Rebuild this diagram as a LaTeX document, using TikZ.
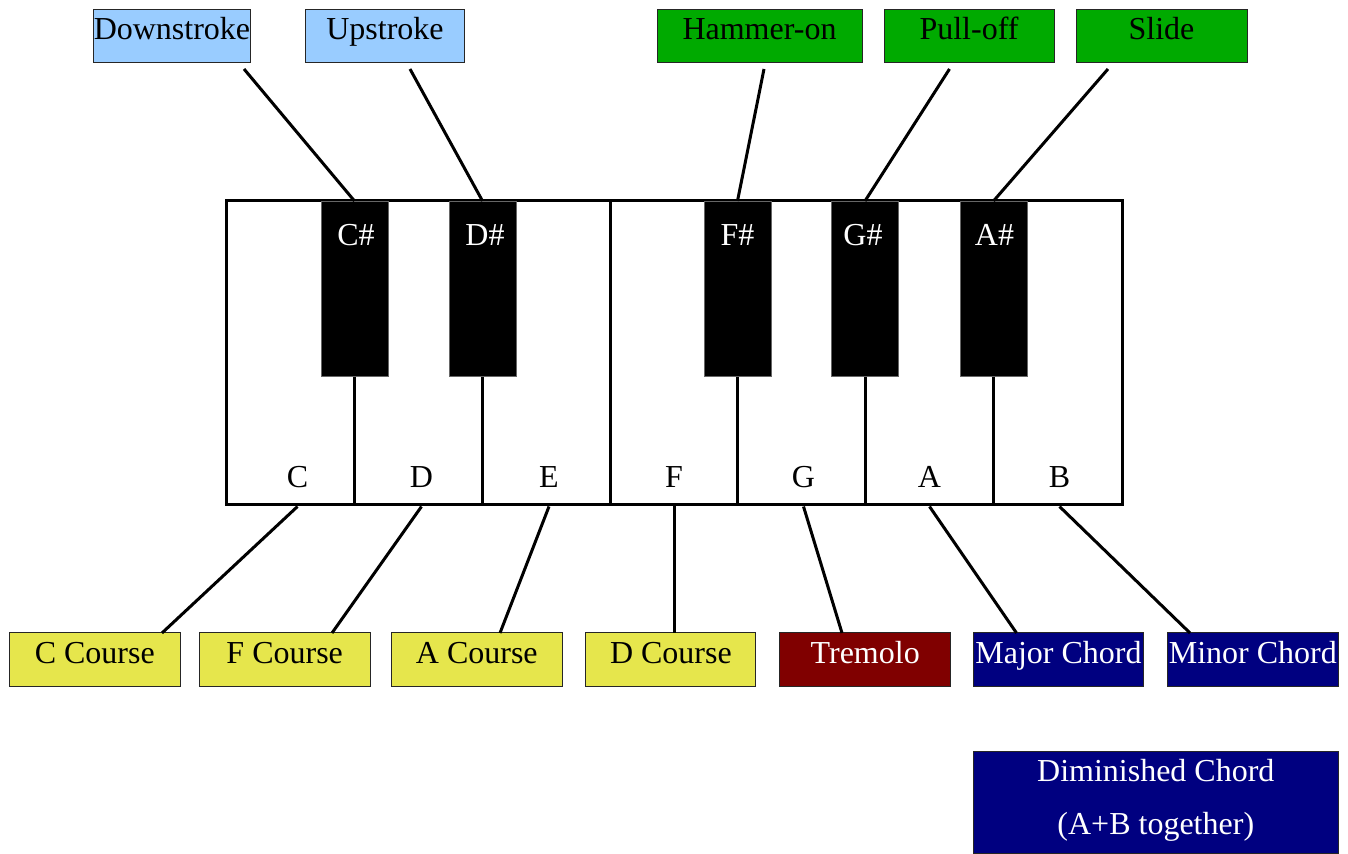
\documentclass[tikz,border=0pt]{standalone}
\usepackage{fontspec}
\setmainfont{Liberation Serif}
\definecolor{strokeblue}{HTML}{99CCFF}
\definecolor{techgreen}{HTML}{00AA00}
\definecolor{courseyellow}{HTML}{E6E64C}
\definecolor{tremred}{HTML}{800000}
\definecolor{chordnavy}{HTML}{000080}
\begin{document}
\begin{tikzpicture}[x=0.5pt,y=-0.5pt,
  every node/.style={font=\fontsize{16pt}{26.5pt}\selectfont},
  box/.style={draw=black!85, line width=0.5pt, inner xsep=0pt, inner ysep=0pt,
    text height=15pt, text depth=11.5pt, minimum height=26.5pt,
    minimum width=#1*0.5pt},
  stroke/.style={box=#1, fill=strokeblue},
  tech/.style={box=#1, fill=techgreen},
  course/.style={box=#1, fill=courseyellow},
  trem/.style={box=#1, fill=tremred, text=white},
  chord/.style={box=#1, fill=chordnavy, text=white},
  frame/.style={draw=black, line width=1.5pt, fill=white, inner sep=0pt},
  bkey/.style={fill=black, draw=black!60, line width=0.5pt, inner sep=0pt,
    minimum width=33.5pt, minimum height=87.5pt, anchor=north},
  keyname/.style={anchor=base, inner sep=0pt},
  link/.style={draw=black, line width=1.5pt},
  divider/.style={draw=black, line width=1.5pt}
]
\useasboundingbox (0,0) rectangle (1348,854);

% keyboard outline (one octave, C to B)
\node[frame, minimum width=448pt, minimum height=152pt] (kb) at (674,353) {};
\coordinate (ef) at (610,201);
\draw[divider] (ef) -- (ef |- kb.south);

% black keys
\node[bkey] (cs) at (354.5,201) {};
\node[bkey] (ds) at (482.5,201) {};
\node[bkey] (fs) at (737.5,201) {};
\node[bkey] (gs) at (865,201) {};
\node[bkey] (as) at (993.5,201) {};

% dividers between white keys below the black keys
\foreach \k in {cs,ds,fs,gs,as}
  \draw[divider] (\k.south) -- (\k.south |- kb.south);

% black key names
\node[keyname, text=white] (cs-t) at (356,246) {C\#};
\node[keyname, text=white] (ds-t) at (485,246) {D\#};
\node[keyname, text=white] (fs-t) at (737.5,246) {F\#};
\node[keyname, text=white] (gs-t) at (863,246) {G\#};
\node[keyname, text=white] (as-t) at (994.5,246) {A\#};

% white key names
\node[keyname] (lc) at (297.5,488) {C};
\node[keyname] (ld) at (421.5,488) {D};
\node[keyname] (le) at (549,488) {E};
\node[keyname] (lf) at (674,488) {F};
\node[keyname] (lg) at (803.5,488) {G};
\node[keyname] (la) at (929.5,488) {A};
\node[keyname] (lb) at (1059.5,488) {B};

% playing techniques (top)
\node[stroke=157] (down) at (172,36) {Downstroke};
\node[stroke=159] (up) at (385,36) {Upstroke};
\node[tech=205] (ham) at (759.5,36) {Hammer-on};
\node[tech=170] (pull) at (969,36) {Pull-off};
\node[tech=171] (slide) at (1161.5,36) {Slide};

\coordinate (down-in) at (244,69);
\coordinate (up-in) at (410,69);
\coordinate (ham-in) at (764,69);
\coordinate (pull-in) at (949.5,69);
\coordinate (slide-in) at (1108,69);

\draw[link] (down-in) -- (cs.north);
\draw[link] (up-in) -- (ds.north);
\draw[link] (ham-in) -- (fs.north);
\draw[link] (pull-in) -- (gs.north);
\draw[link] (slide-in) -- (as.north);

% functions of the white keys (bottom)
\node[course=171] (cc) at (94.8,659.5) {C Course};
\node[course=171] (fc) at (284.7,659.5) {F Course};
\node[course=171] (ac) at (476.8,659.5) {A Course};
\node[course=170] (dc) at (670.9,659.5) {D Course};
\node[trem=171] (tr) at (865.2,659.5) {Tremolo};
\node[chord=170.5] (maj) at (1058.5,659.5) {Major Chord};
\node[chord=171] (min) at (1252.8,659.5) {Minor Chord};

\coordinate (cc-in) at (162,633);
\coordinate (fc-in) at (332,633);
\coordinate (ac-in) at (500,633);
\coordinate (dc-in) at (674,633);
\coordinate (tr-in) at (842,633);
\coordinate (maj-in) at (1016.5,633);
\coordinate (min-in) at (1190,633);

\draw[link] (lc |- kb.south) -- (cc-in);
\draw[link] (ld |- kb.south) -- (fc-in);
\draw[link] (le |- kb.south) -- (ac-in);
\draw[link] (lf |- kb.south) -- (dc-in);
\draw[link] (lg |- kb.south) -- (tr-in);
\draw[link] (la |- kb.south) -- (maj-in);
\draw[link] (lb |- kb.south) -- (min-in);

% combined chord
\node[draw=black!85, line width=0.5pt, fill=chordnavy, inner sep=0pt,
  minimum width=182.5pt, minimum height=50.6pt] (dim) at (1155.8,802.4) {};
\node[keyname, text=white] (dim-a) at (1155.8,781) {Diminished Chord};
\node[keyname, text=white] (dim-b) at (1155.8,834) {(A+B together)};
\end{tikzpicture}
\end{document}
